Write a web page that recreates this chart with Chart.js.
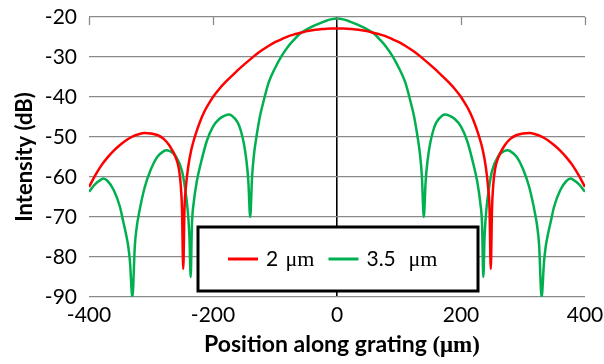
<!DOCTYPE html>
<html>
<head>
<meta charset="utf-8">
<script src="https://cdn.jsdelivr.net/npm/chart.js@4.4.1/dist/chart.umd.min.js"></script>
<style>
  html, body { margin: 0; padding: 0; background: #fff; }
  canvas { display: block; }
</style>
</head>
<body>
<canvas id="c" width="604" height="364"></canvas>
<script>
// Far-field intensity profile along the grating for two grating widths.

const seriesNames = ['2 \u03bcm', '3.5  \u03bcm'];
const seriesColors = ['#FF0000', '#00B050'];

// 2 µm grating
const positions2um = [
  -400, -390, -380, -370, -360, -350, -340, -330, -320, -310, -300, -290, -280, -270, -260,
  -255, -252, -250, -248, -246, -244, -240, -235, -230, -225, -220, -215, -210, -205, -200, -190, -180, -170,
  -160, -150, -140, -130, -120, -110, -100, -90, -80, -70, -60, -50, -40, -30, -20, -10, 0,
  10, 20, 30, 40, 50, 60, 70, 80, 90, 100, 110, 120, 130, 140, 150, 160,
  170, 180, 190, 200, 205, 210, 215, 220, 225, 230, 235, 240, 244, 246, 248, 250, 252, 255,
  260, 270, 280, 290, 300, 310, 320, 330, 340, 350, 360, 370, 380, 390, 400
];
const intensity2um = [
  -62.5, -59.6, -57.1, -55.1, -53.4, -52.0, -50.8, -49.9, -49.3, -49.0, -49.1, -49.5, -50.4, -52.2, -55.2,
  -58.0, -62.0, -68.0, -83.0, -68.0, -63.0, -57.5, -53.2, -50.3, -47.9, -45.8, -44.0, -42.5, -41.2, -40.0, -38.0, -36.3, -34.8,
  -33.3, -31.9, -30.6, -29.3, -28.2, -27.2, -26.3, -25.6, -24.9, -24.4, -24.0, -23.6, -23.3, -23.1, -23.0, -22.9, -22.9,
  -22.9, -23.0, -23.1, -23.3, -23.6, -24.0, -24.4, -24.9, -25.6, -26.3, -27.2, -28.2, -29.3, -30.6, -31.9, -33.3,
  -34.8, -36.3, -38.0, -40.0, -41.2, -42.5, -44.0, -45.8, -47.9, -50.3, -53.2, -57.5, -63.0, -68.0, -83.0, -68.0, -62.0, -58.0,
  -55.2, -52.2, -50.4, -49.5, -49.1, -49.0, -49.3, -49.9, -50.8, -52.0, -53.4, -55.1, -57.1, -59.6, -62.5
];

// 3.5 µm grating
const positions35um = [
  -400, -390, -380, -377, -370, -360, -350, -345, -340, -337, -334, -330, -326, -323, -320,
  -310, -300, -290, -280, -275, -270, -260, -250, -245, -241, -238, -236, -234, -231, -226,
  -220, -210, -200, -190, -180, -175, -170, -160, -155, -150, -146, -143, -140, -137, -134,
  -130, -124, -120, -110, -100, -90, -80, -70, -60, -50, -40, -30, -20, -10, 0,
  10, 20, 30, 40, 50, 60, 70, 80, 90, 100, 110, 120, 124, 130,
  134, 137, 140, 143, 146, 150, 155, 160, 170, 175, 180, 190, 200, 210, 220,
  226, 231, 234, 236, 238, 241, 245, 250, 260, 270, 275, 280, 290, 300, 310,
  320, 323, 326, 330, 334, 337, 340, 345, 350, 360, 370, 377, 380, 390, 400
];
const intensity35um = [
  -63.7, -61.8, -60.6, -60.4, -61.0, -63.3, -67.5, -71.0, -74.5, -77.0, -81.0, -90.0, -77.0, -72.5, -69.6,
  -62.5, -58.0, -55.0, -53.6, -53.3, -53.5, -54.8, -58.5, -62.9, -68.0, -75.0, -85.0, -72.0, -66.3, -61.0,
  -56.8, -51.0, -47.4, -45.5, -44.6, -44.4, -44.6, -46.4, -48.5, -51.8, -56.0, -61.0, -70.0, -60.0, -54.5,
  -50.0, -44.6, -42.0, -36.3, -32.8, -29.9, -27.6, -25.8, -24.2, -23.2, -22.4, -21.7, -21.1, -20.6, -20.4,
  -20.6, -21.1, -21.7, -22.4, -23.2, -24.2, -25.8, -27.6, -29.9, -32.8, -36.3, -42.0, -44.6, -50.0,
  -54.5, -60.0, -70.0, -61.0, -56.0, -51.8, -48.5, -46.4, -44.6, -44.4, -44.6, -45.5, -47.4, -51.0, -56.8,
  -61.0, -66.3, -72.0, -85.0, -75.0, -68.0, -62.9, -58.5, -54.8, -53.5, -53.3, -53.6, -55.0, -58.0, -62.5,
  -69.6, -72.5, -77.0, -90.0, -81.0, -77.0, -74.5, -71.0, -67.5, -63.3, -61.0, -60.4, -60.6, -61.8, -63.7
];

const xTitle = 'Position along grating ';
const xTitleUnit = '(\u03bcm)';
const yTitle = 'Intensity (dB)';

const SANS = 'Lato, "Open Sans", sans-serif';
const SERIF = '"Liberation Serif", "DejaVu Serif", serif';
const GRID = '#8a8a8a';

function toPoints(xs, ys) {
  return xs.map((x, i) => ({ x: x, y: ys[i] }));
}

// Titles, top tick marks and the boxed legend
const decorations = {
  id: 'decorations',
  afterDatasetsDraw(chart) {
    const { ctx, chartArea, scales } = chart;
    ctx.save();

    // tick marks hanging from the top axis line
    ctx.strokeStyle = GRID;
    ctx.lineWidth = 1.3;
    scales.x.ticks.forEach(t => {
      const px = Math.round(scales.x.getPixelForValue(t.value)) + 0.5;
      ctx.beginPath();
      ctx.moveTo(px, chartArea.top);
      ctx.lineTo(px, chartArea.top + 8);
      ctx.stroke();
    });

    // y axis title
    ctx.fillStyle = '#000';
    ctx.font = 'bold 22px ' + SANS;
    ctx.textAlign = 'center';
    ctx.textBaseline = 'alphabetic';
    ctx.save();
    ctx.translate(32, (chartArea.top + chartArea.bottom) / 2);
    ctx.rotate(-Math.PI / 2);
    ctx.fillText(yTitle, 0, 0);
    ctx.restore();

    // x axis title, unit set in a serif face
    ctx.textAlign = 'left';
    ctx.font = 'bold 23px ' + SANS;
    const w1 = ctx.measureText(xTitle).width;
    ctx.font = 'bold 23px ' + SERIF;
    const w2 = ctx.measureText(xTitleUnit).width;
    const cx = (chartArea.left + chartArea.right) / 2 + 5;
    let tx = cx - (w1 + w2) / 2;
    ctx.font = 'bold 23px ' + SANS;
    ctx.fillText(xTitle, tx, 352);
    ctx.font = 'bold 23px ' + SERIF;
    ctx.fillText(xTitleUnit, tx + w1, 352);

    // legend box
    const box = { left: 198, top: 227, width: 280, height: 64 };
    ctx.fillStyle = '#fff';
    ctx.fillRect(box.left, box.top, box.width, box.height);
    ctx.strokeStyle = '#000';
    ctx.lineWidth = 3;
    ctx.strokeRect(box.left, box.top, box.width, box.height);

    let lx = 228;
    const ly = 259;
    chart.data.datasets.forEach((ds, i) => {
      ctx.strokeStyle = ds.borderColor;
      ctx.lineWidth = 3;
      ctx.beginPath();
      ctx.moveTo(lx, ly);
      ctx.lineTo(lx + 30, ly);
      ctx.stroke();
      lx += 38;
      const m = ds.label.match(/^(\S+)(\s+)(.*)$/);
      ctx.fillStyle = '#000';
      ctx.font = '21px ' + SANS;
      ctx.fillText(m[1], lx, 266);
      lx += ctx.measureText(m[1] + m[2]).width + 2;
      ctx.font = '22px ' + SERIF;
      ctx.fillText(m[3], lx, 266);
      lx += ctx.measureText(m[3]).width + 14;
    });

    ctx.restore();
  }
};

new Chart(document.getElementById('c'), {
  type: 'line',
  data: {
    datasets: [
      {
        label: seriesNames[0],
        data: toPoints(positions2um, intensity2um),
        borderColor: seriesColors[0],
        borderWidth: 2.5,
        pointRadius: 0,
        cubicInterpolationMode: 'monotone'
      },
      {
        label: seriesNames[1],
        data: toPoints(positions35um, intensity35um),
        borderColor: seriesColors[1],
        borderWidth: 2.5,
        pointRadius: 0,
        cubicInterpolationMode: 'monotone'
      }
    ]
  },
  options: {
    responsive: false,
    animation: false,
    layout: { padding: { left: 0, right: 19, top: 17, bottom: 0 } },
    plugins: { legend: { display: false }, tooltip: { enabled: false } },
    scales: {
      x: {
        type: 'linear',
        min: -400,
        max: 400,
        ticks: { stepSize: 200, color: '#000', font: { family: SANS, size: 21 }, padding: 6, maxRotation: 0 },
        grid: {
          drawTicks: false,
          lineWidth: 1.6,
          color: c => (c.tick && c.tick.value === 0 ? '#000' : 'rgba(0,0,0,0)')
        },
        border: { display: false },
        afterFit: s => { s.height = 67; s.paddingLeft = 0; s.paddingRight = 0; }
      },
      y: {
        min: -90,
        max: -20,
        ticks: { stepSize: 10, color: '#000', font: { family: SANS, size: 21 }, padding: 12 },
        grid: { drawTicks: false, lineWidth: 1.3, color: GRID },
        border: { display: false },
        afterFit: s => { s.width = 89; s.paddingTop = 0; s.paddingBottom = 0; }
      }
    }
  },
  plugins: [decorations]
});
</script>
</body>
</html>
